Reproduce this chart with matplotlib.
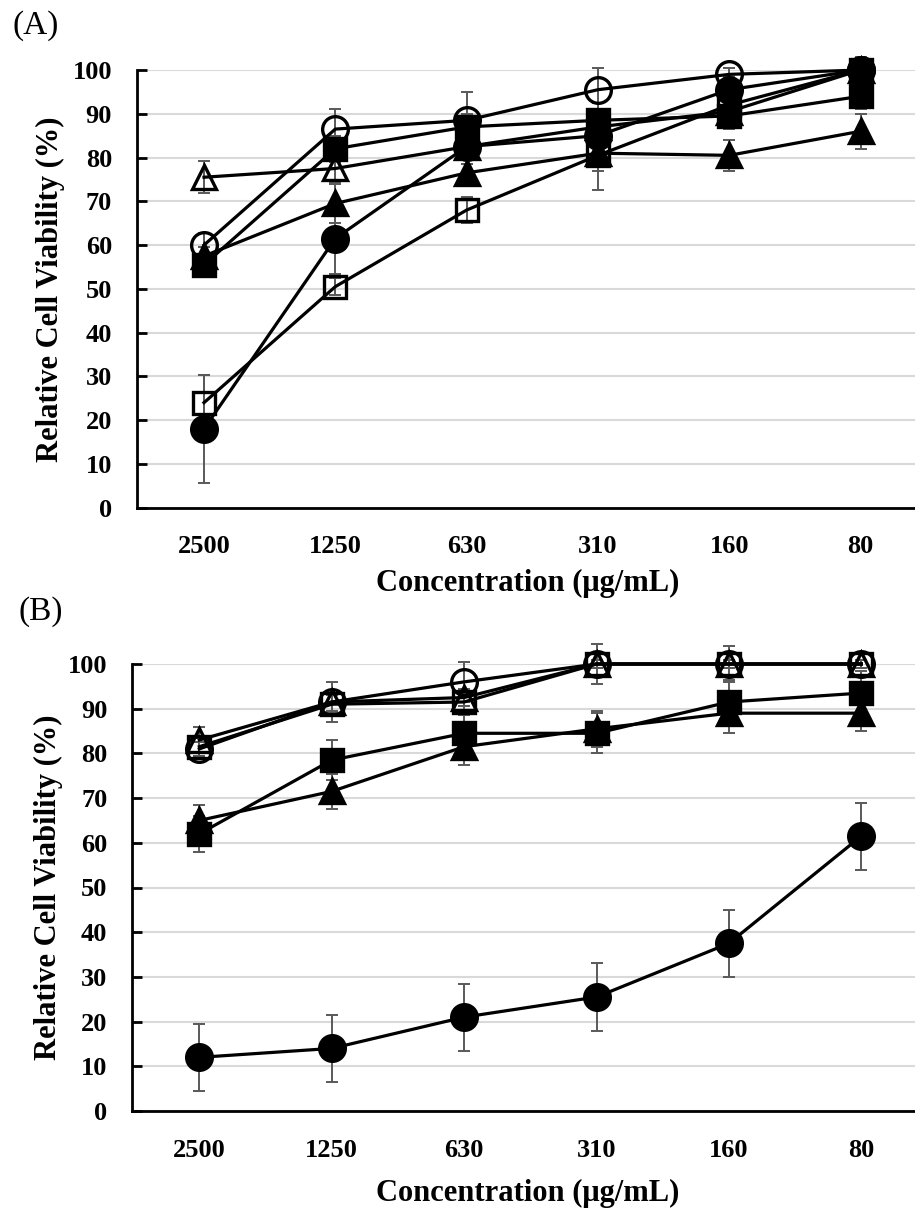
import matplotlib
matplotlib.use("Agg")
import matplotlib.pyplot as plt
import numpy as np

# ---------------- data ----------------
conc = ["2500", "1250", "630", "310", "160", "80"]
yticks = [0, 10, 20, 30, 40, 50, 60, 70, 80, 90, 100]

# Panel A
a_open_square = [24.0, 50.5, 68.0, 80.5, 92.0, 100.0]
a_open_square_err = [6.3, 2.0, 3.0, 8.0, 3.0, 2.0]
a_filled_circle = [18.0, 61.5, 82.5, 85.0, 95.5, 100.0]
a_filled_circle_err = [12.3, 8.0, 3.0, 5.0, 3.0, 2.0]
a_filled_triangle = [57.5, 69.5, 76.5, 81.0, 80.5, 86.0]
a_filled_triangle_err = [2.0, 4.5, 2.0, 4.0, 3.5, 4.0]
a_open_triangle = [75.5, 77.5, 82.5, 87.0, 90.5, 100.0]
a_open_triangle_err = [3.7, 3.0, 4.0, 3.0, 3.0, 3.0]
a_filled_square = [55.5, 82.0, 87.0, 88.5, 89.5, 94.0]
a_filled_square_err = [2.0, 3.0, 3.0, 4.0, 3.0, 3.0]
a_open_circle = [60.0, 86.5, 88.5, 95.5, 99.0, 100.0]
a_open_circle_err = [2.8, 4.5, 6.5, 5.0, 1.5, 1.0]

# Panel B
b_filled_circle = [12.0, 14.0, 21.0, 25.5, 37.5, 61.5]
b_filled_circle_err = [7.5, 7.5, 7.5, 7.5, 7.5, 7.5]
b_filled_triangle = [65.0, 71.5, 81.5, 85.5, 89.0, 89.0]
b_filled_triangle_err = [3.5, 4.0, 4.0, 4.0, 4.5, 4.0]
b_filled_square = [62.0, 78.5, 84.5, 84.5, 91.5, 93.5]
b_filled_square_err = [4.0, 4.5, 4.0, 4.5, 5.0, 5.0]
b_open_square = [81.5, 91.0, 91.5, 100.0, 100.0, 100.0]
b_open_square_err = [2.0, 2.0, 2.0, 1.0, 4.0, 1.0]
b_open_triangle = [83.0, 91.5, 92.5, 100.0, 100.0, 100.0]
b_open_triangle_err = [3.0, 4.5, 2.0, 1.0, 1.0, 1.0]
b_open_circle = [81.0, 91.5, 96.0, 100.0, 100.0, 100.0]
b_open_circle_err = [1.5, 2.0, 4.5, 4.5, 1.0, 1.0]

panel_a = [
    (a_open_square, a_open_square_err, "s", False),
    (a_filled_circle, a_filled_circle_err, "o", True),
    (a_filled_triangle, a_filled_triangle_err, "^", True),
    (a_open_triangle, a_open_triangle_err, "^", False),
    (a_filled_square, a_filled_square_err, "s", True),
    (a_open_circle, a_open_circle_err, "o", False),
]
panel_b = [
    (b_filled_circle, b_filled_circle_err, "o", True),
    (b_filled_triangle, b_filled_triangle_err, "^", True),
    (b_filled_square, b_filled_square_err, "s", True),
    (b_open_square, b_open_square_err, "s", False),
    (b_open_triangle, b_open_triangle_err, "^", False),
    (b_open_circle, b_open_circle_err, "o", False),
]

SERIF = ["Liberation Serif", "DejaVu Serif"]
MS = {"o": 18.5, "s": 16.5, "^": 17.5}

W, H = 915, 1209
fig = plt.figure(figsize=(W / 100, H / 100), dpi=100)


def make_axes(left_px, x0_px, step_px, top_px, bottom_px):
    ax = fig.add_axes([left_px / W, 1 - bottom_px / H, (W - left_px) / W,
                       (bottom_px - top_px) / H])
    xmin = -(x0_px - left_px) / step_px
    xmax = (W - x0_px) / step_px
    ax.set_xlim(xmin, xmax)
    ax.set_ylim(0, 100)
    return ax


def draw(ax, series):
    x = np.arange(len(conc))
    for vals, errs, marker, filled in series:
        eb = ax.errorbar(x, vals, yerr=errs, fmt="none", ecolor="#595959",
                         elinewidth=1.4, capsize=4.3, capthick=1.4, zorder=2)
        for art in eb.lines[1] + eb.lines[2]:
            art.set_clip_on(False)
        ax.plot(x, vals, color="black", lw=2.3, marker=marker, ms=MS[marker],
                mfc="black" if filled else "none", mec="black", mew=2.4,
                zorder=3, solid_joinstyle="round", clip_on=False)
    ax.set_yticks(yticks)
    ax.set_xticks(x)
    ax.set_xticklabels(conc)
    ax.grid(axis="y", color="#d9d9d9", lw=1.5, zorder=0)
    ax.set_axisbelow(True)
    for s in ["top", "right"]:
        ax.spines[s].set_visible(False)
    for s in ["left", "bottom"]:
        ax.spines[s].set_linewidth(2.0)
        ax.spines[s].set_color("black")
    ax.tick_params(axis="y", direction="in", length=7, width=2, pad=18,
                   labelsize=19)
    ax.tick_params(axis="x", length=0, pad=20, labelsize=19)
    for lab in ax.get_xticklabels() + ax.get_yticklabels():
        lab.set_fontfamily(SERIF)
        lab.set_fontweight("bold")


axA = make_axes(137, 204, 131.3, 70, 507.7)
draw(axA, panel_a)
axB = make_axes(132.3, 199.3, 132.4, 664, 1111)
draw(axB, panel_b)

lab_kw = dict(fontfamily=SERIF, fontweight="bold", fontsize=22)
fig.text(50 / W, 1 - 289 / H, "Relative Cell Viability (%)", rotation=90,
         ha="center", va="center", **lab_kw)
fig.text(48 / W, 1 - 887 / H, "Relative Cell Viability (%)", rotation=90,
         ha="center", va="center", **lab_kw)
fig.text(528 / W, 1 - 583 / H, "Concentration (\u03bcg/mL)", ha="center",
         va="center", **lab_kw)
fig.text(528 / W, 1 - 1193 / H, "Concentration (\u03bcg/mL)", ha="center",
         va="center", **lab_kw)

fig.text(12 / W, 1 - 26 / H, "(A)", ha="left", va="center",
         fontfamily=SERIF, fontsize=24)
fig.text(18 / W, 1 - 612 / H, "(B)", ha="left", va="center",
         fontfamily=SERIF, fontsize=24)

fig.savefig("out.png", dpi=100)
